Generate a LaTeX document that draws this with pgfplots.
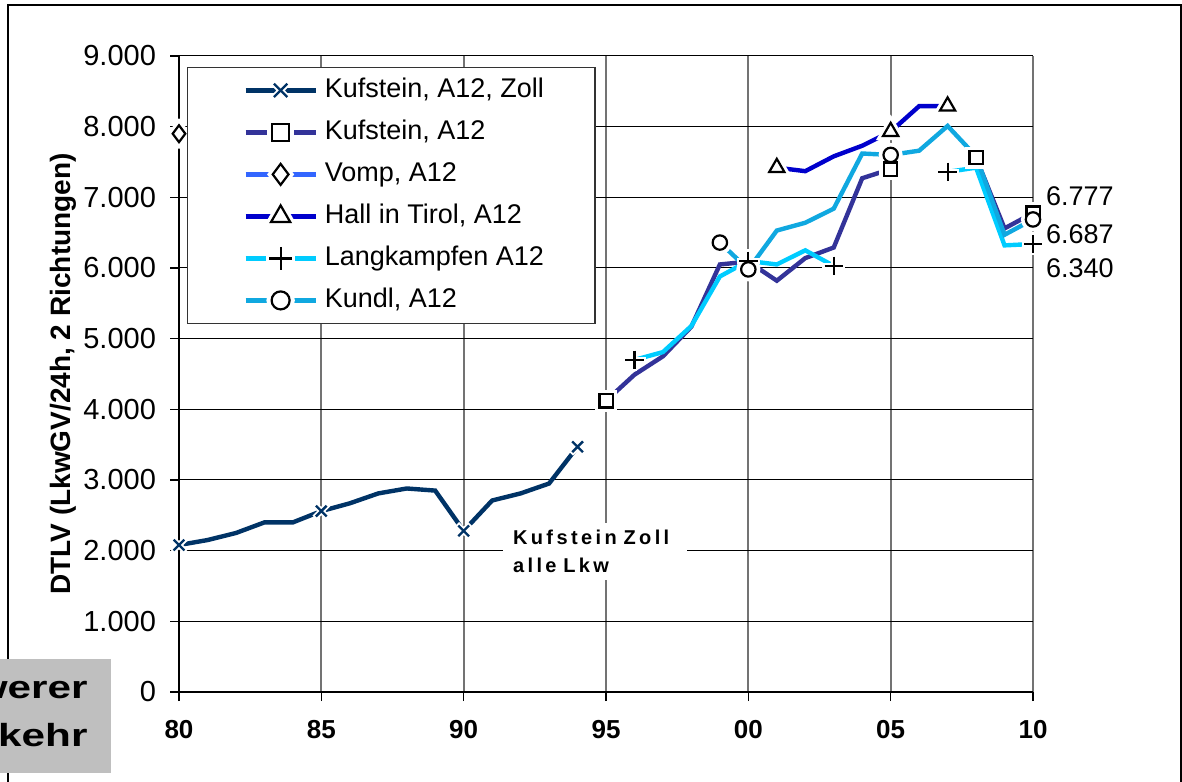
\documentclass[border=0pt]{standalone}
\usepackage{pgfplots}
\pgfplotsset{compat=1.18}
\usepackage{pgfplotstable}
\usepackage{fontspec}
\setmainfont{Liberation Sans}

\definecolor{cZoll}{HTML}{003366}
\definecolor{cKuf}{HTML}{333399}
\definecolor{cVomp}{HTML}{3366FF}
\definecolor{cHall}{HTML}{0000CC}
\definecolor{cLang}{HTML}{00CCFF}
\definecolor{cKundl}{HTML}{10A8E0}

\pgfplotstableread{
x y m
1980 2080 1
1981 2150 0
1982 2250 0
1983 2400 0
1984 2400 0
1985 2560 1
1986 2670 0
1987 2810 0
1988 2880 0
1989 2850 0
1990 2280 1
1991 2710 0
1992 2810 0
1993 2950 0
1994 3470 1
}\tZoll

\pgfplotstableread{
x y m
1995 4120 1
1996 4490 0
1997 4750 0
1998 5170 0
1999 6050 0
2000 6090 0
2001 5820 0
2002 6140 0
2003 6290 0
2004 7270 0
2005 7400 1
2006 nan 0
2007 nan 0
2008 7560 1
2009 6560 0
2010 6777 1
}\tKuf

\pgfplotstableread{
x y m
1980 7900 1
}\tVomp

\pgfplotstableread{
x y m
2001 7420 1
2002 7370 0
2003 7580 0
2004 7730 0
2005 7930 1
2006 8290 0
2007 8290 1
}\tHall

\pgfplotstableread{
x y m
1996 4700 1
1997 4810 0
1998 5180 0
1999 5880 0
2000 6100 1
2001 6050 0
2002 6250 0
2003 6030 1
2004 nan 0
2005 nan 0
2006 nan 0
2007 7360 1
2008 7420 0
2009 6320 0
2010 6340 1
}\tLang

\pgfplotstableread{
x y m
1999 6360 1
2000 5980 1
2001 6530 0
2002 6640 0
2003 6840 0
2004 7620 0
2005 7600 1
2006 7660 0
2007 8010 0
2008 7580 0
2009 6470 0
2010 6687 1
}\tKundl

\pgfplotsset{
  sZoll/.style={cZoll, line width=2.2pt, mark=x, mark size=3.8pt, mark options={solid, cZoll, line width=1.2pt}},
  sKuf/.style={cKuf, line width=2.2pt, mark=square*, mark size=3.3pt, mark options={solid, draw=black, fill=white, line width=1.1pt}},
  sVomp/.style={cVomp, line width=2.2pt, mark=diamond*, mark size=4.2pt, mark options={solid, draw=black, fill=white, line width=1.1pt}},
  sHall/.style={cHall, line width=2.2pt, mark=triangle*, mark size=4.4pt, mark options={solid, draw=black, fill=white, line width=1.1pt}},
  sLang/.style={cLang, line width=2.2pt, mark=+, mark size=4.6pt, mark options={solid, black, line width=1.1pt}},
  sKundl/.style={cKundl, line width=2.2pt, mark=*, mark size=3.6pt, mark options={solid, draw=black, fill=white, line width=1.1pt}},
  halo/.style={only marks, forget plot, unbounded coords=discard, restrict expr to domain={\thisrow{m}}{0.5:1.5}, mark options={draw=white, fill=white, line width=3pt, scale=1.25}},
  marks/.style={only marks, forget plot, unbounded coords=discard, restrict expr to domain={\thisrow{m}}{0.5:1.5}},
  lineonly/.style={mark=none, forget plot, unbounded coords=jump},
}

\begin{document}
\begin{tikzpicture}
\useasboundingbox (0pt,0pt) rectangle (591pt,390.5pt);
\draw[line width=0.6pt] (4pt,-5pt) rectangle (590.5pt,388pt);
\begin{axis}[
  at={(89.5pt,44.5pt)}, anchor=south west,
  scale only axis, width=427pt, height=318pt,
  xmin=1980, xmax=2010, ymin=0, ymax=9000,
  xtick={1980,1985,...,2010},
  xticklabels={80,85,90,95,00,05,10},
  ytick={0,1000,...,9000},
  axis x line*=bottom, axis y line*=left,
  axis line style={black, line width=0.7pt},
  tick align=outside, major tick length=4.5pt,
  tick style={black, line width=0.6pt},
  xmajorgrids, ymajorgrids,
  x grid style={black!55, line width=1pt},
  y grid style={black, line width=0.5pt},
  /pgf/number format/.cd, 1000 sep={.}, assume math mode=true, /pgfplots/.cd,
  y tick label style={font=\fontsize{14.5}{17}\selectfont, xshift=-3.5pt},
  x tick label style={font=\bfseries\fontsize{13}{16}\selectfont, yshift=-6pt},
  ylabel={DTLV (LkwGV/24h, 2 Richtungen)},
  every axis y label/.style={at={(axis description cs:-0.136,0.5)}, rotate=90, anchor=center, font=\bfseries\fontsize{14}{16}\selectfont},
  clip=false,
  legend cell align=left,
  legend style={at={(axis description cs:0.0094,0.983)}, anchor=north west,
    draw=black!80, line width=0.6pt, fill=white,
    font=\fontsize{13.5}{16}\selectfont,
    inner xsep=0pt, inner ysep=1pt, row sep=0pt, column sep=0pt,
    nodes={inner ysep=4pt, inner xsep=3.5pt, text height=10pt, text depth=3pt}},
  legend image code/.code={
    \path[draw=none,fill=none] (-29pt,0pt) -- (35pt,0pt);
    \draw[#1,mark=none] (0pt,0pt) -- (35pt,0pt);
    \draw[#1,mark options={draw=white,fill=white,line width=3pt,scale=1.55}] plot coordinates {(17.5pt,0pt)};
    \draw[#1,every mark/.append style={scale=1.25}] plot coordinates {(17.5pt,0pt)};
  },
]
\addlegendimage{sZoll}\addlegendentry{Kufstein, A12, Zoll\hspace{22pt}\mbox{}}
\addlegendimage{sKuf}\addlegendentry{Kufstein, A12}
\addlegendimage{sVomp}\addlegendentry{Vomp, A12}
\addlegendimage{sHall}\addlegendentry{Hall in Tirol, A12}
\addlegendimage{sLang}\addlegendentry{Langkampfen A12}
\addlegendimage{sKundl}\addlegendentry{Kundl, A12}

% lines
\addplot[sZoll, lineonly] table[x=x,y=y] {\tZoll};
\addplot[sKuf, lineonly] table[x=x,y=y] {\tKuf};
\addplot[sVomp, lineonly] table[x=x,y=y] {\tVomp};
\addplot[sHall, lineonly] table[x=x,y=y] {\tHall};
\addplot[sLang, lineonly] table[x=x,y=y] {\tLang};
\addplot[sKundl, lineonly] table[x=x,y=y] {\tKundl};
% halos
\addplot[sZoll, halo] table[x=x,y=y] {\tZoll};
\addplot[sKuf, halo] table[x=x,y=y] {\tKuf};
\addplot[sVomp, halo] table[x=x,y=y] {\tVomp};
\addplot[sHall, halo] table[x=x,y=y] {\tHall};
\addplot[sLang, halo] table[x=x,y=y] {\tLang};
\addplot[sKundl, halo] table[x=x,y=y] {\tKundl};
% marks
\addplot[sZoll, marks] table[x=x,y=y] {\tZoll};
\addplot[sKuf, marks] table[x=x,y=y] {\tKuf};
\addplot[sVomp, marks] table[x=x,y=y] {\tVomp};
\addplot[sHall, marks] table[x=x,y=y] {\tHall};
\addplot[sLang, marks] table[x=x,y=y] {\tLang};
\addplot[sKundl, marks] table[x=x,y=y] {\tKundl};

\node[anchor=west, fill=white, inner xsep=4.85pt, inner ysep=3.5pt, text width=82pt, align=left,
  font=\bfseries\fontsize{10}{14}\selectfont\addfontfeatures{LetterSpace=17}]
  at (axis cs:1991.38,1985) {Kufstein Zoll\\alle Lkw};

\node[anchor=west, font=\fontsize{13.5}{16}\selectfont, xshift=3pt] at (axis cs:2010,7009) {6.777};
\node[anchor=west, font=\fontsize{13.5}{16}\selectfont, xshift=3pt] at (axis cs:2010,6481) {6.687};
\node[anchor=west, font=\fontsize{13.5}{16}\selectfont, xshift=3pt] at (axis cs:2010,5993) {6.340};
\end{axis}
\begin{scope}
\clip (0pt,0pt) rectangle (591pt,390.5pt);
\fill[black!25] (-1pt,4pt) rectangle (55.5pt,61pt);
\node[anchor=base east, inner sep=0pt, xscale=1.32, transform shape, font=\bfseries\fontsize{16}{20}\selectfont] at (44pt,41.5pt) {Schwerer};
\node[anchor=base east, inner sep=0pt, xscale=1.32, transform shape, font=\bfseries\fontsize{16}{20}\selectfont] at (44pt,17pt) {Verkehr};
\end{scope}
\end{tikzpicture}
\end{document}
